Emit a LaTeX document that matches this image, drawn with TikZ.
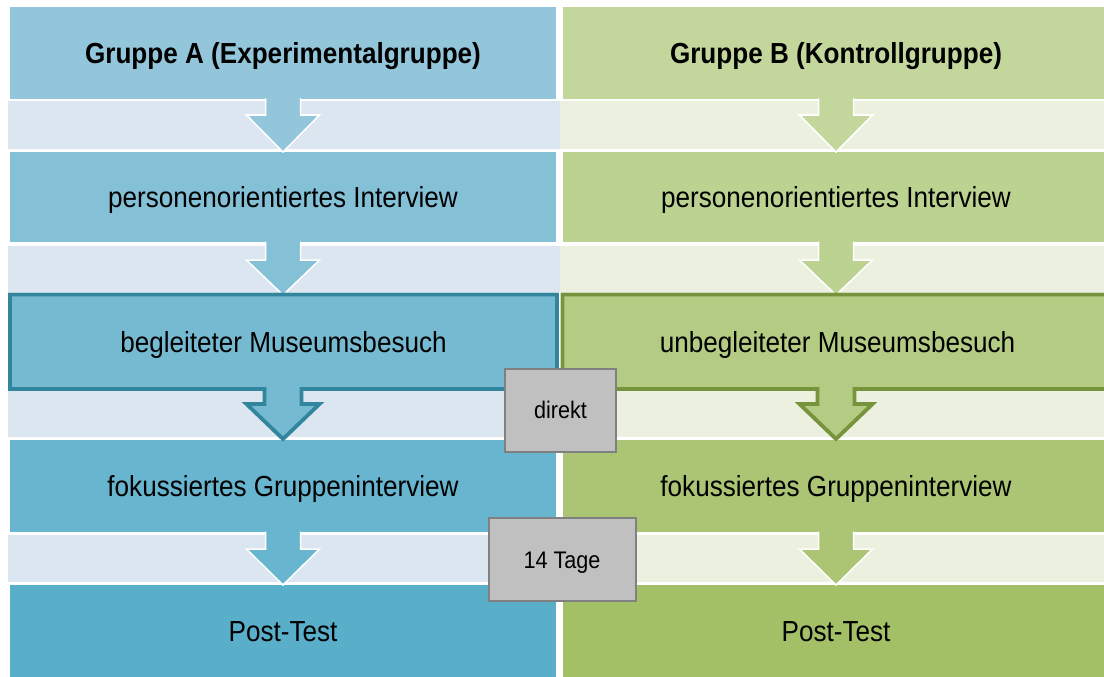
\documentclass[tikz,border=0pt]{standalone}
\usepackage{fontspec}
\setmainfont{Liberation Sans}[FakeStretch=0.9]
\definecolor{hA}{HTML}{93C6DB}
\definecolor{bAii}{HTML}{84C0D6}
\definecolor{bAiii}{HTML}{76BAD2}
\definecolor{bAiv}{HTML}{67B5CE}
\definecolor{bAv}{HTML}{59AFCA}
\definecolor{hB}{HTML}{C3D69B}
\definecolor{bBii}{HTML}{BCD291}
\definecolor{bBiii}{HTML}{B3CB82}
\definecolor{bBiv}{HTML}{ABC574}
\definecolor{bBv}{HTML}{A4C066}
\definecolor{bandA}{HTML}{DCE6F1}
\definecolor{bandB}{HTML}{EBF1DE}
\definecolor{edgeA}{HTML}{31859C}
\definecolor{edgeB}{HTML}{77933C}
\definecolor{tagfill}{HTML}{C0C0C0}
\definecolor{tagedge}{HTML}{808080}
\newcommand\flowarr[5]{%
  \fill[#5] (#1-17.5,#2) -- (#1-17.5,#3) -- (#1-36.5,#3) -- (#1,#4) -- (#1+36.5,#3) -- (#1+17.5,#3) -- (#1+17.5,#2) -- cycle;
  \draw[white, line width=1.5pt, line join=miter] (#1-17.5,#2) -- (#1-17.5,#3) -- (#1-36.5,#3) -- (#1,#4) -- (#1+36.5,#3) -- (#1+17.5,#3) -- (#1+17.5,#2);
}
\begin{document}
\begin{tikzpicture}[x=1pt,y=-1pt,
  boxA/.style={inner sep=0pt, outer sep=0pt, minimum width=546pt, text height=21pt, text depth=0pt, font=\fontsize{29}{34}\selectfont},
  boxB/.style={inner sep=0pt, outer sep=0pt, minimum width=546pt, text height=21pt, text depth=0pt, font=\fontsize{29}{34}\selectfont},
  title/.style={font=\fontsize{29}{34}\selectfont\bfseries},
  band/.style={inner sep=0pt, outer sep=0pt},
  tag/.style={draw=tagedge, line width=2pt, fill=tagfill, inner sep=0pt, text height=17pt, text depth=0pt, font=\fontsize{24}{28}\selectfont}
]
\clip (0,0) rectangle (1104,677);
\fill[white] (0,0) rectangle (1104,677);
% bands
\foreach \t/\b in {101/149, 246/292, 390/437, 535/582}{
  \fill[bandA] (8,\t) rectangle (560,\b);
  \fill[bandB] (560,\t) rectangle (1110,\b);
}
% left column boxes
\node[boxA, fill=hA, minimum height=92pt, title] (a1) at (283,53) {Gruppe A (Experimentalgruppe)};
\node[boxA, fill=bAii, minimum height=90pt] (a2) at (283,197) {personenorientiertes Interview};
\node[boxA, fill=bAiii, minimum height=94.5pt, minimum width=547pt] (a3) at (283.5,341.75) {begleiteter Museumsbesuch};
\node[boxA, fill=bAiv, minimum height=92pt] (a4) at (283,486) {fokussiertes Gruppeninterview};
\node[boxA, fill=bAv, minimum height=92pt] (a5) at (283,631) {Post-Test};
% right column boxes
\node[boxB, fill=hB, minimum height=92pt, title] (b1) at (836,53) {Gruppe B (Kontrollgruppe)};
\node[boxB, fill=bBii, minimum height=90pt] (b2) at (836,197) {personenorientiertes Interview};
\node[boxB, fill=bBiii, minimum height=94.5pt, minimum width=550pt] (b3) at (837.5,341.75) {unbegleiteter Museumsbesuch};
\node[boxB, fill=bBiv, minimum height=92pt] (b4) at (836,486) {fokussiertes Gruppeninterview};
\node[boxB, fill=bBv, minimum height=92pt] (b5) at (836,631) {Post-Test};
% arrows
\flowarr{283}{98.5}{115}{152}{hA}
\flowarr{836}{98.5}{115}{152}{hB}
\flowarr{283}{241.5}{260}{295}{bAii}
\flowarr{836}{241.5}{260}{295}{bBii}
\flowarr{283}{531.5}{549}{585}{bAiv}
\flowarr{836}{531.5}{549}{585}{bBiv}
% museum arrows with outline
\foreach \cx/\lx/\rx/\fc/\ec in {283/10/557/bAiii/edgeA, 836/562.5/1115/bBiii/edgeB}{
  \fill[\fc] (\cx-18.5,388) -- (\cx-18.5,404) -- (\cx-36.5,404) -- (\cx,440) -- (\cx+36.5,404) -- (\cx+18.5,404) -- (\cx+18.5,388) -- cycle;
  \draw[\ec, line width=3.8pt, line join=miter] (\lx,294.5) -- (\rx,294.5) -- (\rx,389) -- (\cx+18.5,389) -- (\cx+18.5,404) -- (\cx+36.5,404) -- (\cx,439) -- (\cx-36.5,404) -- (\cx-18.5,404) -- (\cx-18.5,389) -- (\lx,389) -- cycle;
}
% time tags
\node[tag, minimum width=111pt, minimum height=83pt] (t1) at (560.5,410) {direkt};
\node[tag, minimum width=147pt, minimum height=83pt] (t2) at (562,559.5) {14 Tage};
\end{tikzpicture}
\end{document}
